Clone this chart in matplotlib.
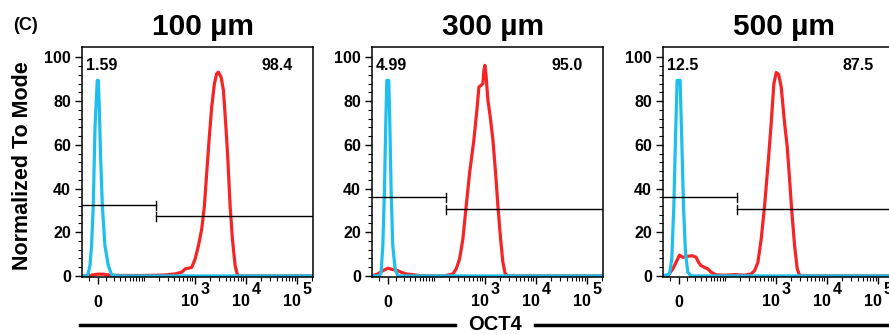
import matplotlib
matplotlib.use('Agg')
import matplotlib.pyplot as plt
from matplotlib.lines import Line2D
from matplotlib.ticker import FixedLocator

plt.rcParams['font.family'] = ['Liberation Sans', 'DejaVu Sans']
plt.rcParams['font.weight'] = 'bold'

# panel labels
titles = ['100 µm', '300 µm', '500 µm']
neg_pct = ['1.59', '4.99', '12.5']
pos_pct = ['98.4', '95.0', '87.5']

# decade ticks on the OCT4 axis
decades = [1e3, 1e4, 1e5]
exponents = ['3', '4', '5']

# gates (OCT4 value at split, heights of left / right gate bars)
gate_x = [170, 170, 170]
gate_left_y = [32.4, 36.0, 36.0]
gate_right_y = [27.2, 30.5, 30.5]

# isotype control (blue) and OCT4 (red) histograms, normalized to mode
x1_blue = [-19.5, -12.0, -9.1, -7.2, -5.2, -3.2, -1.7, -0.6, 0.6, 1.7, 3.2, 5.2, 8.3, 12.4, 16.7, 24, 2.1e5]
y1_blue = [0, 0, 4.7, 13.8, 32, 67.7, 80.5, 89.5, 89.5, 77.4, 54.7, 32, 13.8, 4.7, 0.6, 0, 0]
x1_red = [-19.5, -8, 0, 6, 14, 30, 100, 250, 411, 554, 646, 871, 1015, 1178, 1367, 1543, 1713,
          1909, 2147, 2424, 2691, 2906, 3281, 3641, 4038, 4418, 4926, 5466, 6174, 6943, 2.1e5]
y1_red = [0, 0.3, 0.8, 0.8, 0.4, 0.2, 0.2, 0.4, 0.9, 1.7, 3.2, 3.9, 7.7, 13.8, 21.4, 32, 47.1,
          62.3, 77.4, 88, 92.6, 93.3, 91, 85, 69.8, 54.7, 32, 16.8, 4.7, 0, 0]

x2_blue = [-19.5, -9.5, -7.7, -5.7, -3.8, -2.3, -1.1, 1.1, 2.3, 3.8, 5.7, 8.5, 11.8, 2.1e5]
y2_blue = [0, 0, 1.7, 13.8, 39.4, 69.8, 89.5, 89.5, 69.8, 39.4, 13.8, 3.2, 0, 0]
x2_red = [-19.5, -11.8, -5.7, 0, 5.7, 11.8, 16, 23.3, 38.3, 53.8, 162, 236, 275, 320, 372, 432,
          504, 612, 711, 767, 850, 918, 961, 1005, 1066, 1151, 1278, 1443, 1630, 1809, 2042,
          2266, 2513, 2840, 2.1e5]
y2_red = [0, 0.9, 2.4, 3.5, 2.9, 2.4, 1.7, 0.9, 0.5, 0, 0, 0.9, 3.2, 7.7, 16.8, 32,
          47.1, 62.3, 77.4, 86.5, 87.3, 88, 94.1, 96.4, 91.1, 80.5, 72.9, 62.3, 47.1, 32, 16.8,
          6.2, 0.9, 0, 0]

x3_blue = [-19.5, -10.9, -8.1, -5.7, -3.8, -1.9, 1.5, 3.4, 5.4, 7.7, 10.5, 14.7, 2.1e5]
y3_blue = [0, 0.9, 7.7, 32, 62.3, 89.5, 89.5, 62.3, 32, 10.8, 1.7, 0, 0]
x3_red = [-19.5, -13.1, -6.9, -3.1, 0.8, 4.6, 10.5, 17, 21.8, 25.5, 29.9, 36.3, 43.3, 51.2, 65.5,
          97.6, 155, 244, 329, 384, 446, 518, 603, 701, 813, 918, 1019, 1136, 1278, 1490, 1675,
          1867, 2071, 2340, 2631, 2933, 3405, 2.1e5]
y3_red = [0, 0, 3.2, 6.2, 9.5, 8.5, 9, 9.2, 8.5, 6.2, 4.7, 3.9, 3.2, 1.7, 0.5,
          0.3, 0.6, 0.3, 0.9, 2.4, 6.2, 16.8, 32, 50.2, 69.8, 88, 93.1, 92.3, 86.5, 69.8, 59.2,
          44, 28.8, 13.8, 3.2, 0.3, 0, 0]

blues = [(x1_blue, y1_blue), (x2_blue, y2_blue), (x3_blue, y3_blue)]
reds = [(x1_red, y1_red), (x2_red, y2_red), (x3_red, y3_red)]

BLUE = '#1ebfee'
RED = '#f52525'

W, H = 889, 335
fig = plt.figure(figsize=(W / 100, H / 100), dpi=100)

lefts = [82, 372, 663]
minor_x = ([-10] + list(range(10, 100, 10)) + list(range(100, 1000, 100))
           + list(range(1000, 10000, 1000)) + list(range(10000, 100000, 10000)) + [200000])

for i in range(3):
    ax = fig.add_axes([lefts[i] / W, 58 / H, 231 / W, 230 / H])
    ax.set_xscale('asinh', linear_width=25.2)
    ax.plot(*reds[i], color=RED, lw=2.3, solid_joinstyle='round')
    ax.plot(*blues[i], color=BLUE, lw=2.3, solid_joinstyle='round')

    # gates
    g = gate_x[i]
    ax.plot([-19.5, g], [gate_left_y[i]] * 2, color='black', lw=1.0)
    ax.plot([g, g], [gate_left_y[i] - 2, gate_left_y[i] + 2], color='black', lw=1.0)
    ax.plot([g, 2.1e5], [gate_right_y[i]] * 2, color='black', lw=1.0)
    ax.plot([g, g], [gate_right_y[i] - 2, gate_right_y[i] + 2], color='black', lw=1.0)

    ax.set_xlim(-19.5, 2.07e5)
    ax.set_ylim(-0.5, 104.8)
    ax.set_xticks([0] + decades)
    ax.set_xticklabels(['0', '', '', ''])
    ax.xaxis.set_minor_locator(FixedLocator(minor_x))
    ax.set_yticks(range(0, 101, 20))
    ax.yaxis.set_minor_locator(FixedLocator(range(0, 101, 4)))
    ax.tick_params(axis='both', which='major', length=5, width=1.0, labelsize=11.5, pad=3)
    ax.tick_params(axis='x', which='major', pad=8)
    ax.tick_params(axis='both', which='minor', length=3, width=0.8)
    for lab in ax.get_xticklabels() + ax.get_yticklabels():
        lab.set_fontweight('bold')
    for s in ax.spines.values():
        s.set_linewidth(1.1)

    # decade labels: "10" with a large raised exponent
    for d, e in zip(decades, exponents):
        ax.annotate('10', xy=(d, 0), xycoords=('data', 'axes fraction'),
                    xytext=(-5, -25), textcoords='offset pixels', fontsize=11.5,
                    fontweight='bold', ha='center', va='center', annotation_clip=False)
        ax.annotate(e, xy=(d, 0), xycoords=('data', 'axes fraction'),
                    xytext=(10, -13), textcoords='offset pixels', fontsize=11.5,
                    fontweight='bold', ha='center', va='center', annotation_clip=False)

    ax.text(0.017, 0.92, neg_pct[i], transform=ax.transAxes, fontsize=11.5,
            fontweight='bold', ha='left', va='center')
    ax.text(0.843, 0.92, pos_pct[i], transform=ax.transAxes, fontsize=11.5,
            fontweight='bold', ha='center', va='center')

    fig.text((lefts[i] + 121) / W, 1 - 27 / H, titles[i], fontsize=21.5,
             fontweight='bold', ha='center', va='center')

fig.text(13 / W, 1 - 25 / H, '(C)', fontsize=13, fontweight='bold', ha='left', va='center')
fig.text(23 / W, 1 - 166 / H, 'Normalized To Mode', fontsize=15.5, fontweight='bold',
         rotation=90, ha='center', va='center')

fig.text(495 / W, 1 - 325 / H, 'OCT4', fontsize=14.5, fontweight='bold', ha='center', va='center')
fig.add_artist(Line2D([80 / W, 455 / W], [1 - 325 / H] * 2, color='black', lw=2.5))
fig.add_artist(Line2D([535 / W, 1.0], [1 - 325 / H] * 2, color='black', lw=2.5))

fig.savefig('out.png', dpi=100)
